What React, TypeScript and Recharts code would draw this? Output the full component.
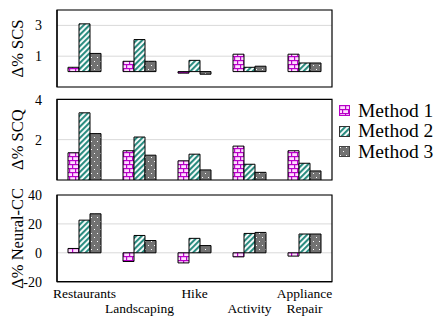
import React from "react";
import { BarChart, Bar, XAxis, YAxis, CartesianGrid, ReferenceArea } from "recharts";

const categories = ["Restaurants", "Landscaping", "Hike", "Activity", "Appliance Repair"];
const seriesNames = ["Method 1", "Method 2", "Method 3"];

const scsM1 = [0.28, 0.67, -0.1, 1.13, 1.13];
const scsM2 = [3.1, 2.08, 0.73, 0.28, 0.56];
const scsM3 = [1.18, 0.67, -0.17, 0.35, 0.56];

const scqM1 = [1.35, 1.45, 0.95, 1.68, 1.45];
const scqM2 = [3.33, 2.13, 1.28, 0.78, 0.83];
const scqM3 = [2.3, 1.23, 0.5, 0.38, 0.45];

const nccM1 = [3, -6, -7, -2.8, -2.3];
const nccM2 = [22.6, 12, 10, 13.4, 13];
const nccM3 = [27, 8.5, 5, 14.1, 13];

const scsTicks = [-1, 1, 3];
const scqTicks = [0, 2, 4];
const nccTicks = [-20, 0, 20, 40];

const build = (a: number[], b: number[], c: number[]) =>
  categories.map((cat, i) => ({ cat, m1: a[i], m2: b[i], m3: c[i] }));

const scsData = build(scsM1, scsM2, scsM3);
const scqData = build(scqM1, scqM2, scqM3);
const nccData = build(nccM1, nccM2, nccM3);

const FONT = "'Liberation Serif', 'Times New Roman', Times, serif";
const MAGENTA = "#b800c8";
const PINK = "#ffdcff";
const TEAL = "#2a8c80";
const GRAY = "#727272";

const Patterns = ({ p }: { p: string }) => (
  <defs>
    <pattern id={`${p}-m1`} width={6} height={8} patternUnits="userSpaceOnUse">
      <rect x={0} y={0} width={6} height={8} fill={PINK} />
      <line x1={0} y1={0.6} x2={6} y2={0.6} stroke={MAGENTA} strokeWidth={1.2} />
      <line x1={0} y1={4.6} x2={6} y2={4.6} stroke={MAGENTA} strokeWidth={1.2} />
      <line x1={0.6} y1={0} x2={0.6} y2={4.6} stroke={MAGENTA} strokeWidth={1.2} />
      <line x1={3.6} y1={4.6} x2={3.6} y2={8} stroke={MAGENTA} strokeWidth={1.2} />
    </pattern>
    <pattern id={`${p}-m2`} width={4} height={4} patternUnits="userSpaceOnUse" patternTransform="rotate(45)">
      <rect x={0} y={0} width={4} height={4} fill="#ffffff" />
      <rect x={0} y={0} width={2.1} height={4} fill={TEAL} />
    </pattern>
    <pattern id={`${p}-m3`} width={6} height={8} patternUnits="userSpaceOnUse">
      <rect x={0} y={0} width={6} height={8} fill={GRAY} />
      <rect x={1} y={1} width={1} height={1} fill="#ffffff" />
      <rect x={4} y={5} width={1} height={1} fill="#ffffff" />
    </pattern>
  </defs>
);

const AxisTitle = (props: any) => {
  const { viewBox, text } = props;
  const cy = viewBox.y + viewBox.height / 2;
  return (
    <text
      transform={`translate(${viewBox.x + 17}, ${cy}) rotate(-90)`}
      textAnchor="middle"
      dominantBaseline="central"
      fontFamily={FONT}
      fontSize={16.5}
      fill="#000"
    >
      {text}
    </text>
  );
};

const XTick = (props: any) => {
  const { x, y, payload, index } = props;
  const label: string = payload.value;
  const rows: string[] = index % 2 === 1 ? ["", label] : label.split(" ");
  return (
    <g>
      {rows.map((r, i) =>
        r ? (
          <text
            key={i}
            x={x}
            y={y + 16 + i * 15}
            textAnchor="middle"
            fontFamily={FONT}
            fontSize={13.5}
            fill="#000"
          >
            {r}
          </text>
        ) : null
      )}
    </g>
  );
};

type PanelProps = {
  id: string;
  data: any[];
  domain: [number, number];
  ticks: number[];
  title: string;
  top: number;
  height: number;
  margin: { top: number; right: number; bottom: number; left: number };
  xHeight: number;
  showX: boolean;
};

const Panel = ({ id, data, domain, ticks, title, top, height, margin, xHeight, showX }: PanelProps) => (
  <div style={{ position: "absolute", left: 0, top, width: 340, height }}>
    <BarChart
      width={340}
      height={height}
      data={data}
      margin={margin}
      barGap={0}
      barCategoryGap="20%"
    >
      <Patterns p={id} />
      <CartesianGrid vertical={false} stroke="#d9d9d9" strokeWidth={1} />
      <XAxis
        dataKey="cat"
        height={xHeight}
        axisLine={{ stroke: "#000", strokeWidth: 1.2 }}
        tickLine={false}
        tickSize={0}
        tickMargin={0}
        interval={0}
        tick={showX ? <XTick /> : false}
      />
      <YAxis
        width={57}
        domain={domain}
        ticks={ticks}
        allowDataOverflow
        axisLine={{ stroke: "#000", strokeWidth: 1.2 }}
        tickLine={false}
        tickSize={0}
        tickMargin={15}
        tick={{ fontFamily: FONT, fontSize: 14, fill: "#000" }}
        label={<AxisTitle text={title} />}
      />
      <Bar dataKey="m1" name={seriesNames[0]} fill={`url(#${id}-m1)`} stroke="#000" strokeWidth={1} isAnimationActive={false} />
      <Bar dataKey="m2" name={seriesNames[1]} fill={`url(#${id}-m2)`} stroke="#000" strokeWidth={1} isAnimationActive={false} />
      <Bar dataKey="m3" name={seriesNames[2]} fill={`url(#${id}-m3)`} stroke="#000" strokeWidth={1} isAnimationActive={false} />
      <ReferenceArea
        y1={domain[0]}
        y2={domain[1]}
        fill="none"
        fillOpacity={0}
        stroke="#000"
        strokeWidth={1.2}
        ifOverflow="visible"
      />
    </BarChart>
  </div>
);

const legendBorders = [MAGENTA, "#333", "#444"];

const LegendBox = () => (
  <div style={{ position: "absolute", left: 339, top: 100.5, fontFamily: FONT, fontSize: 19.5, color: "#000" }}>
    {seriesNames.map((n, i) => (
      <div key={n} style={{ display: "flex", alignItems: "center", height: 20.5, whiteSpace: "nowrap" }}>
        <svg width={11} height={11} style={{ marginRight: 8, display: "block" }}>
          <Patterns p={`lg${i}`} />
          <rect x={0.5} y={0.5} width={10} height={10} fill={`url(#lg${i}-m${i + 1})`} stroke={legendBorders[i]} strokeWidth={1} />
        </svg>
        <span style={{ fontFamily: FONT }}>{n}</span>
      </div>
    ))}
  </div>
);

export default function App() {
  return (
    <div style={{ position: "absolute", left: 0, top: 0, width: 442, height: 320, background: "#fff", overflow: "hidden" }}>
      <Panel
        id="p1"
        data={scsData}
        domain={[-1, 4]}
        ticks={scsTicks}
        title="Δ% SCS"
        top={0}
        height={92}
        margin={{ top: 10, right: 8, bottom: 5, left: 0 }}
        xHeight={0}
        showX={false}
      />
      <Panel
        id="p2"
        data={scqData}
        domain={[0, 4]}
        ticks={scqTicks}
        title="Δ% SCQ"
        top={92}
        height={92}
        margin={{ top: 7.3, right: 8, bottom: 4, left: 0 }}
        xHeight={0}
        showX={false}
      />
      <Panel
        id="p3"
        data={nccData}
        domain={[-20, 40]}
        ticks={nccTicks}
        title="Δ% Neural-CC"
        top={184}
        height={136}
        margin={{ top: 11, right: 8, bottom: 0, left: 0 }}
        xHeight={38.3}
        showX={true}
      />
      <LegendBox />
    </div>
  );
}
